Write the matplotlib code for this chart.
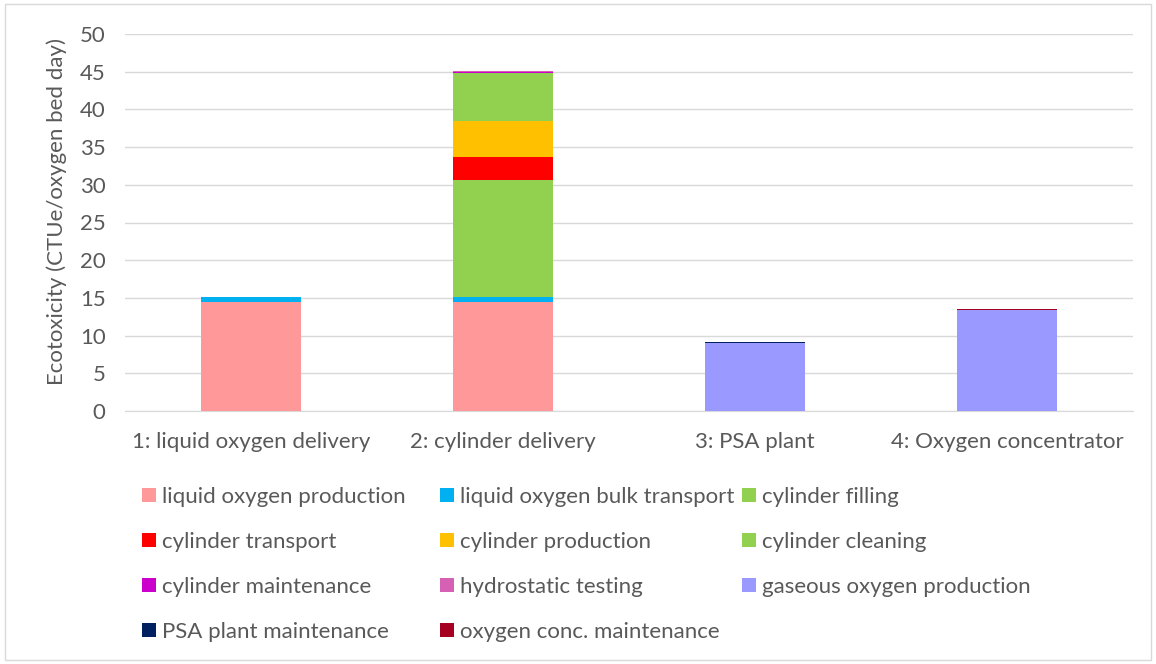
import matplotlib.pyplot as plt
from matplotlib.patches import Patch, Rectangle

# Données
categories = ["1: liquid oxygen delivery", "2: cylinder delivery",
              "3: PSA plant", "4: Oxygen concentrator"]

liquid_oxygen_production = [14.45, 14.45, 0, 0]
liquid_oxygen_bulk_transport = [0.65, 0.65, 0, 0]
cylinder_filling = [0, 15.5, 0, 0]
cylinder_transport = [0, 3.1, 0, 0]
cylinder_production = [0, 4.75, 0, 0]
cylinder_cleaning = [0, 6.4, 0, 0]
cylinder_maintenance = [0, 0.05, 0, 0]
hydrostatic_testing = [0, 0.15, 0, 0]
gaseous_oxygen_production = [0, 0, 9.05, 13.45]
psa_plant_maintenance = [0, 0, 0.15, 0]
oxygen_conc_maintenance = [0, 0, 0, 0.12]

series = [
    ("liquid oxygen production", liquid_oxygen_production, "#FF9999"),
    ("liquid oxygen bulk transport", liquid_oxygen_bulk_transport, "#00B0F0"),
    ("cylinder filling", cylinder_filling, "#92D050"),
    ("cylinder transport", cylinder_transport, "#FF0000"),
    ("cylinder production", cylinder_production, "#FFC000"),
    ("cylinder cleaning", cylinder_cleaning, "#92D050"),
    ("cylinder maintenance", cylinder_maintenance, "#CC00CC"),
    ("hydrostatic testing", hydrostatic_testing, "#D660B4"),
    ("gaseous oxygen production", gaseous_oxygen_production, "#9999FF"),
    ("PSA plant maintenance", psa_plant_maintenance, "#002060"),
    ("oxygen conc. maintenance", oxygen_conc_maintenance, "#A50021"),
]

plt.rcParams["font.family"] = ["Lato", "DejaVu Sans"]
text_color = "#595959"
fs = 16

fig = plt.figure(figsize=(11.56, 6.64), dpi=100)
ax = fig.add_axes([125 / 1156, 1 - 411 / 664, 1008 / 1156, 377 / 664])

x = list(range(len(categories)))
bottom = [0.0] * len(categories)
handles = []
for name, vals, color in series:
    ax.bar(x, vals, width=0.4, bottom=bottom, color=color, zorder=3)
    bottom = [b + v for b, v in zip(bottom, vals)]
    handles.append(Patch(facecolor=color, label=name))

ax.set_xlim(-0.5, 3.5)
ax.set_ylim(0, 50)
ax.set_yticks(range(0, 51, 5))
ax.set_xticks(x)
ax.set_xticklabels(categories)
ax.tick_params(axis="both", length=0, labelsize=fs, colors=text_color)
ax.tick_params(axis="y", pad=14)
ax.tick_params(axis="x", pad=15)
ax.grid(axis="y", color="#D9D9D9", linewidth=1, zorder=0)
for s in ["top", "right", "left"]:
    ax.spines[s].set_visible(False)
ax.spines["bottom"].set_color("#D9D9D9")

ax.set_ylabel("Ecotoxicity (CTUe/oxygen bed day)", fontsize=fs, color=text_color)
ax.yaxis.set_label_coords(-0.058, 0.53)

# Légende en 3 colonnes placées à la main
col_x = [142, 440, 742]
for i in range(3):
    h = handles[i::3]
    fig.legend(handles=h, labels=[p.get_label() for p in h],
               loc="upper left", bbox_to_anchor=(col_x[i] / 1156, 1 - 487 / 664),
               frameon=False, fontsize=fs, labelcolor=text_color,
               handlelength=0.63, handleheight=0.63, handletextpad=0.27,
               labelspacing=1.12, borderpad=0, borderaxespad=0)

# Cadre du graphique
fig.patches.append(Rectangle((5 / 1156, 4 / 664), 1 - 10 / 1156, 1 - 8 / 664,
                             transform=fig.transFigure, fill=False,
                             edgecolor="#D9D9D9", linewidth=1))

fig.savefig("out.png", dpi=100)
